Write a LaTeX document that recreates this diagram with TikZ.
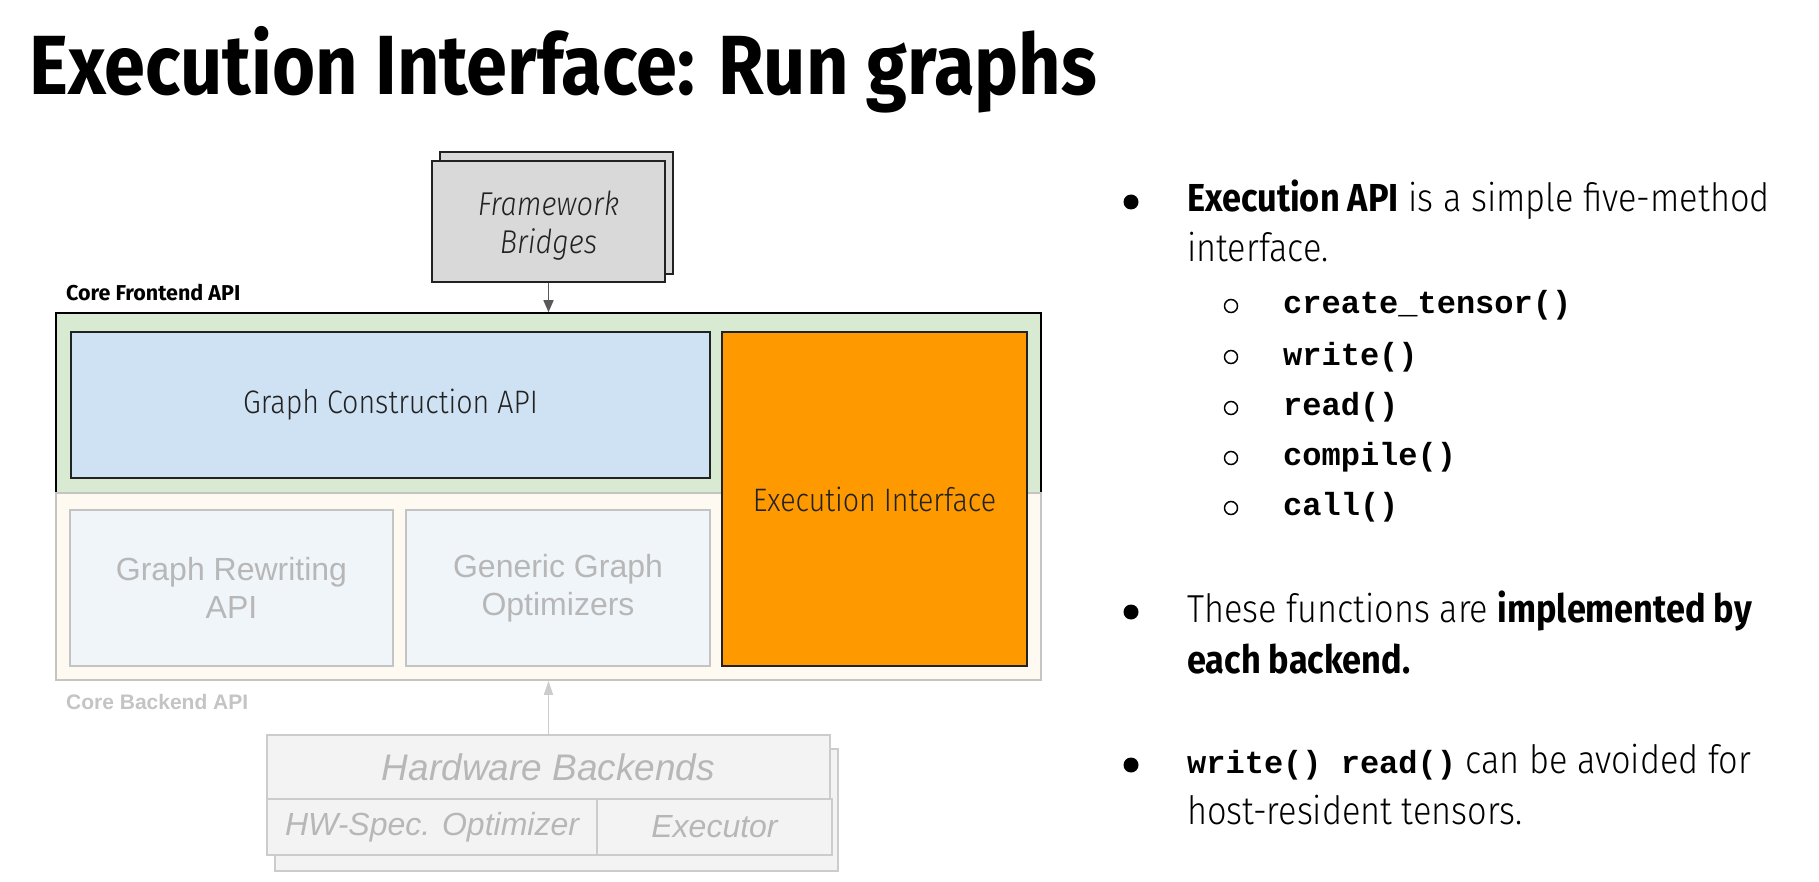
\documentclass[tikz,border=0pt]{standalone}
\usepackage{fontspec}
\setmainfont{Fira Sans Light}[FakeStretch=0.88, BoldFont={Fira Sans Bold}, ItalicFont={Fira Sans Light Italic}]
\newfontfamily\titlefont{Fira Sans}[FakeStretch=0.88]
\newfontfamily\labelfont{Fira Sans}
\newfontfamily\arialish{Liberation Sans}
\newfontfamily\codefont{Liberation Mono}
\usetikzlibrary{arrows.meta}

\definecolor{fwgray}{HTML}{D9D9D9}
\definecolor{frontgreen}{HTML}{D9EAD3}
\definecolor{gcablue}{HTML}{CFE2F3}
\definecolor{execorange}{HTML}{FF9900}
\definecolor{backcream}{HTML}{FFFAF1}
\definecolor{fadedblue}{HTML}{F0F5FA}
\definecolor{fadedline}{HTML}{C4C4C4}
\definecolor{fadedtext}{HTML}{B7B7B7}
\definecolor{hwfill}{HTML}{F3F3F3}
\definecolor{hwline}{HTML}{CCCCCC}
\definecolor{arrowgray}{HTML}{595959}
\definecolor{ink}{HTML}{222222}

\begin{document}
\begin{tikzpicture}[x=1pt, y=-1pt,
  box/.style={draw, rectangle, inner sep=0pt, line width=1.6pt},
  darkbox/.style={box, draw=ink, text=ink,
    font=\fontsize{32.5}{38}\selectfont, align=center},
  fadedbox/.style={box, draw=fadedline, fill=fadedblue, text=fadedtext,
    font=\arialish\fontsize{32}{38}\selectfont, align=center},
  hwbox/.style={box, draw=hwline, fill=hwfill, text=fadedtext,
    font=\arialish\itshape\fontsize{32}{36}\selectfont},
  bodytext/.style={anchor=base west, inner sep=0pt, text=black,
    font=\fontsize{39}{46}\selectfont},
  code/.style={anchor=base west, inner sep=0pt, text=black,
    font=\codefont\bfseries\fontsize{32}{36}\selectfont},
  dot/.style={circle, fill=black, inner sep=0pt, minimum size=15pt},
  ring/.style={circle, draw=black, line width=1.5pt, inner sep=0pt, minimum size=13pt},
  tag/.style={anchor=base west, inner sep=0pt}
]
\useasboundingbox (0,0) rectangle (1819,882);

% heading
\node[anchor=base west, inner sep=0pt,
  font=\titlefont\bfseries\fontsize{84}{86}\selectfont] (title) at (29,95)
  {Execution Interface: Run graphs};

% framework bridges (stacked cards)
\node[box, draw=ink, fill=fwgray, minimum width=233pt, minimum height=122pt] (fwback) at (556.5,213) {};
\node[box, draw=ink, fill=fwgray, minimum width=233pt, minimum height=121pt] (fw) at (548.5,221.5) {};
\node[inner sep=0pt, text=ink, align=center,
  font=\itshape\fontsize{33}{38}\selectfont] (fwtext) at (548.5,226) {Framework\\Bridges};

% core frontend / backend layers
\node[tag, text=black, font=\labelfont\bfseries\fontsize{21.5}{24}\selectfont] (frontlabel) at (66,300.5) {Core Frontend API};
\node[box, draw=black, fill=frontgreen, minimum width=985pt, minimum height=180pt] (front) at (548.5,403) {};
\node[box, draw=fadedline, fill=backcream, minimum width=985pt, minimum height=187pt] (back) at (548.5,586.5) {};
\node[tag, text=fadedline, font=\arialish\bfseries\fontsize{21}{24}\selectfont] (backlabel) at (66,709) {Core Backend API};

\node[darkbox, fill=gcablue, minimum width=639pt, minimum height=146pt] (gca) at (390.5,405) {Graph Construction API};
\node[darkbox, fill=execorange, minimum width=305pt, minimum height=334pt] (exec) at (874.5,499) {Execution Interface};

\node[fadedbox, minimum width=323pt, minimum height=156pt] (grw) at (231.5,588) {Graph Rewriting\\API};
\node[fadedbox, minimum width=304pt, minimum height=156pt] (ggo) at (558,588) {Generic Graph\\Optimizers};

% hardware backends (stacked cards)
\node[box, draw=hwline, fill=hwfill, minimum width=563pt, minimum height=122pt] (hwback) at (556.5,810) {};
\node[hwbox, minimum width=563pt, minimum height=64pt, font=\arialish\itshape\fontsize{37}{42}\selectfont] (hw) at (548.5,767) {Hardware Backends};
\node[hwbox, minimum width=330pt, minimum height=56pt] (hwopt) at (432,827) {HW-Spec. Optimizer};
\node[hwbox, minimum width=235pt, minimum height=56pt] (hwexe) at (714.5,827) {Executor};

% connectors
\draw[arrowgray, line width=1.6pt, -{Triangle[length=12pt, width=10pt]}]
  (fw.south) -- (fw.south |- front.north);
\draw[hwline, line width=1.6pt, -{Triangle[length=14pt, width=9pt]}]
  (hw.north) -- (hw.north |- back.south);

% bullet list
\node[dot] (d1) at (1131,202) {};
\node[bodytext] (t1a) at (1187,212) {\textbf{Execution API} is a simple five-method};
\node[bodytext] (t1b) at (1187,262) {interface.};

\node[ring] (r1) at (1231,306) {};
\node[code] (c1) at (1283,313) {create\_tensor()};
\node[ring] (r2) at (1231,357) {};
\node[code] (c2) at (1283,365) {write()};
\node[ring] (r3) at (1231,408) {};
\node[code] (c3) at (1283,415) {read()};
\node[ring] (r4) at (1231,458) {};
\node[code] (c4) at (1283,465) {compile()};
\node[ring] (r5) at (1231,508) {};
\node[code] (c5) at (1283,515) {call()};

\node[dot] (d2) at (1131,612) {};
\node[bodytext] (t2a) at (1187,622) {These functions are \textbf{implemented by}};
\node[bodytext] (t2b) at (1187,673) {\textbf{each backend.}};

\node[dot] (d3) at (1131,765) {};
\node[bodytext] (t3a) at (1187,773) {{\codefont\bfseries\fontsize{32}{36}\selectfont write() read()} can be avoided for};
\node[bodytext] (t3b) at (1187,824) {host-resident tensors.};
\end{tikzpicture}
\end{document}
